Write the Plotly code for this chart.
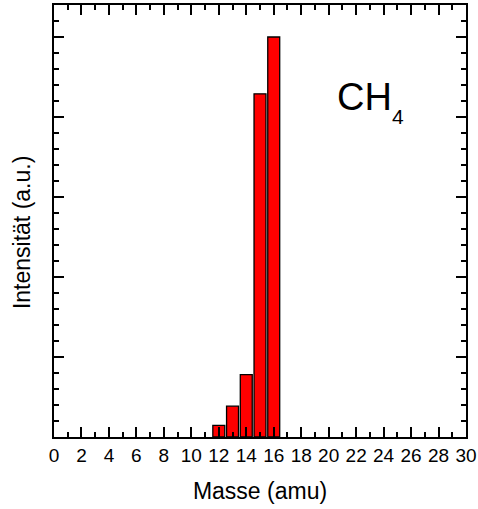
import plotly.graph_objects as go

masses = [12, 13, 14, 15, 16]
intensities = [2.9, 7.7, 15.6, 85.8, 100.0]
x_ticks = list(range(0, 31, 2))

FONT = "Liberation Sans, Arial"

fig = go.Figure()
fig.add_trace(go.Bar(
    x=masses, y=intensities, width=0.87,
    marker=dict(color="#FF0000", line=dict(color="black", width=1.3)),
))

axis_common = dict(
    showline=True, linecolor="black", linewidth=2, mirror="ticks",
    ticks="inside", ticklen=10, tickwidth=2, tickcolor="black",
    showgrid=False, zeroline=False,
)

fig.update_xaxes(
    range=[0, 30], tickvals=x_ticks, ticktext=[str(v) for v in x_ticks],
    minor=dict(dtick=1, ticks="inside", ticklen=5, tickwidth=2, tickcolor="black", showgrid=False),
    tickfont=dict(family=FONT, size=19, color="black"),
    title=dict(text="Masse (amu)", font=dict(family=FONT, size=23, color="black"), standoff=18),
    **axis_common,
)
fig.update_yaxes(
    range=[0, 108], dtick=20, showticklabels=False,
    minor=dict(dtick=4, ticks="inside", ticklen=5, tickwidth=2, tickcolor="black", showgrid=False),
    **axis_common,
)

# y-axis title placed as rotated annotation (slightly below the axis centre, as in the reference)
fig.add_annotation(
    xref="paper", yref="paper", x=-0.078, y=0.474, xanchor="center", yanchor="middle",
    text="Intensität (a.u.)", textangle=-90, showarrow=False,
    font=dict(family=FONT, size=23, color="black"),
)

fig.add_annotation(
    xref="paper", yref="paper", x=0.682, y=0.787, xanchor="left", yanchor="middle",
    text="CH", showarrow=False,
    font=dict(family=FONT, size=38, color="black"),
)
fig.add_annotation(
    xref="paper", yref="paper", x=0.815, y=0.743, xanchor="left", yanchor="middle",
    text="4", showarrow=False,
    font=dict(family=FONT, size=21, color="black"),
)

fig.update_layout(
    width=478, height=509,
    margin=dict(l=54, r=12, t=5, b=72, autoexpand=False),
    plot_bgcolor="white", paper_bgcolor="white",
    showlegend=False,
)

fig.write_html("out.html", config={"displayModeBar": False},
               post_script="document.body.style.margin='0';")
